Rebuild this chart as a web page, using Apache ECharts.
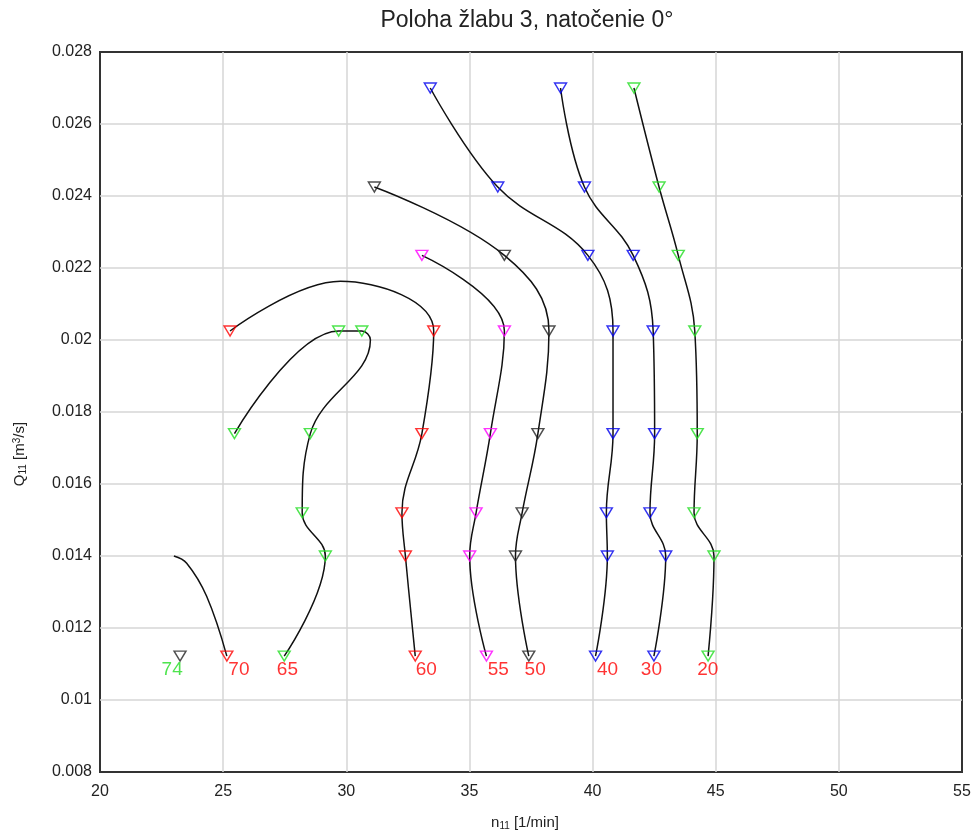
<!DOCTYPE html>
<html>
<head>
<meta charset="utf-8">
<script src="https://cdn.jsdelivr.net/npm/echarts@6/dist/echarts.min.js"></script>
<style>
html,body{margin:0;padding:0;background:#fff;}
#chart{width:976px;height:836px;}
</style>
</head>
<body>
<div id="chart"></div>
<script>
// ---- axis ticks ----
const xMin = 20, xMax = 55, xStep = 5;
const yMin = 0.008, yMax = 0.028, yStep = 0.002;

// ---- curves (top to bottom along each curve) ----
const curve20 = [[41.68,0.0270],[42.70,0.02425],[43.48,0.02235],[44.15,0.02025],[44.25,0.0174],[44.12,0.0152],[44.93,0.0140],[44.69,0.01122]];
const curve30 = [[38.70,0.0270],[39.67,0.02425],[41.65,0.02235],[42.46,0.02025],[42.52,0.0174],[42.33,0.0152],[42.97,0.0140],[42.49,0.01122]];
const curve40 = [[33.41,0.0270],[36.15,0.02425],[39.81,0.02235],[40.83,0.02025],[40.83,0.0174],[40.56,0.0152],[40.60,0.0140],[40.12,0.01122]];
const curve50 = [[31.14,0.02425],[36.42,0.02235],[38.23,0.02025],[37.78,0.0174],[37.14,0.0152],[36.87,0.0140],[37.41,0.01122]];
const curve55 = [[33.07,0.02235],[36.42,0.02025],[35.85,0.0174],[35.27,0.0152],[35.01,0.0140],[35.69,0.01122]];
const curve60 = [[25.28,0.02025],[29.76,0.02163],[33.55,0.02025],[33.07,0.0174],[32.26,0.0152],[32.40,0.0140],[32.80,0.01122]];
const curve65 = [[25.46,0.0174],[29.69,0.02025],[30.63,0.02025],[30.98,0.0200],[28.54,0.0174],[28.21,0.0152],[29.15,0.0140],[27.48,0.01122]];
const curve70 = [[23.0,0.0140],[23.52,0.0138],[24.33,0.01288],[25.15,0.01122]];

// ---- markers by colour ----
const markersRed = [[25.28,0.02025],[33.55,0.02025],[33.07,0.0174],[32.26,0.0152],[32.40,0.0140],[32.80,0.01122],[25.15,0.01122]];
const markersGreen = [[41.68,0.0270],[42.70,0.02425],[43.48,0.02235],[44.15,0.02025],[44.25,0.0174],[44.12,0.0152],[44.93,0.0140],[44.69,0.01122],
  [25.46,0.0174],[29.69,0.02025],[30.63,0.02025],[28.54,0.0174],[28.21,0.0152],[29.15,0.0140],[27.48,0.01122]];
const markersBlue = [[38.70,0.0270],[39.67,0.02425],[41.65,0.02235],[42.46,0.02025],[42.52,0.0174],[42.33,0.0152],[42.97,0.0140],[42.49,0.01122],
  [33.41,0.0270],[36.15,0.02425],[39.81,0.02235],[40.83,0.02025],[40.83,0.0174],[40.56,0.0152],[40.60,0.0140],[40.12,0.01122]];
const markersMagenta = [[33.07,0.02235],[36.42,0.02025],[35.85,0.0174],[35.27,0.0152],[35.01,0.0140],[35.69,0.01122]];
const markersBlack = [[31.14,0.02425],[36.42,0.02235],[38.23,0.02025],[37.78,0.0174],[37.14,0.0152],[36.87,0.0140],[37.41,0.01122],[23.25,0.01122]];

// ---- curve labels ----
const labelText = ['74','70','65','60','55','50','40','30','20'];
const labelX = [22.93,25.64,27.61,33.25,36.17,37.67,40.61,42.39,44.68];
const labelY = [0.01083,0.01083,0.01083,0.01083,0.01083,0.01083,0.01083,0.01083,0.01083];
const labelColor = ['#22dd22','#ff0000','#ff0000','#ff0000','#ff0000','#ff0000','#ff0000','#ff0000','#ff0000'];

const FONT = '"Liberation Sans", Arial, sans-serif';
const chart = echarts.init(document.getElementById('chart'), null, {renderer:'canvas'});

const curves = [curve20, curve30, curve40, curve50, curve55, curve60, curve65, curve70];
const lineSeries = curves.map(c => ({
  type: 'line', data: c, smooth: 0.4, symbol: 'none', showSymbol: false,
  lineStyle: {color: '#111', width: 1.5}, z: 2, silent: true
}));
function markerSeries(data, color) {
  return {
    type: 'scatter', data: data, symbol: 'triangle', symbolRotate: 180, symbolSize: [12, 10],
    itemStyle: {color: 'rgba(0,0,0,0)', borderColor: color, borderWidth: 1.4}, z: 3, silent: true
  };
}
const labelData = labelText.map((t, i) => ({
  value: [labelX[i], labelY[i], t],
  label: {color: labelColor[i]}
}));

chart.setOption({
  animation: false,
  backgroundColor: '#ffffff',
  title: {
    text: 'Poloha žlabu 3, natočenie 0°',
    left: 522, top: 4, textAlign: 'center',
    textStyle: {fontFamily: FONT, fontSize: 23, fontWeight: 'normal', color: '#222'}
  },
  grid: {left: 100, right: 14, top: 52, bottom: 59, show: true, borderColor: '#333', borderWidth: 2, containLabel: false},
  xAxis: {
    type: 'value', min: xMin, max: xMax, interval: xStep,
    name: '{a|n}{s|11}{a| [1/min]}', nameLocation: 'middle', nameGap: 43,
    nameTextStyle: {padding: [0, 12, 0, 0], rich: {
      a: {fontFamily: FONT, fontSize: 15, color: '#222'},
      s: {fontFamily: FONT, fontSize: 10, color: '#222', verticalAlign: 'bottom', padding: [6, 0, 0, 0]}
    }},
    axisLine: {show: false}, axisTick: {show: false},
    axisLabel: {fontFamily: FONT, fontSize: 16, color: '#222', margin: 12},
    splitLine: {show: true, showMinLine: false, showMaxLine: false, lineStyle: {color: '#d6d6d6', width: 1.5}}
  },
  yAxis: {
    type: 'value', min: yMin, max: yMax, interval: yStep,
    name: '{a|Q}{s|11}{a| [m}{p|3}{a|/s]}', nameLocation: 'middle', nameGap: 72,
    nameTextStyle: {padding: [0, 84, 0, 0], rich: {
      a: {fontFamily: FONT, fontSize: 15, color: '#222'},
      s: {fontFamily: FONT, fontSize: 10, color: '#222', verticalAlign: 'bottom', padding: [6, 0, 0, 0]},
      p: {fontFamily: FONT, fontSize: 10, color: '#222', verticalAlign: 'top', padding: [0, 0, 6, 0]}
    }},
    axisLine: {show: false}, axisTick: {show: false},
    axisLabel: {fontFamily: FONT, fontSize: 16, color: '#222', margin: 8},
    splitLine: {show: true, showMinLine: false, showMaxLine: false, lineStyle: {color: '#d6d6d6', width: 1.5}}
  },
  series: [
    ...lineSeries,
    markerSeries(markersRed, '#ff0000'),
    markerSeries(markersGreen, '#22dd22'),
    markerSeries(markersBlue, '#0000ee'),
    markerSeries(markersMagenta, '#ff00ff'),
    markerSeries(markersBlack, '#222222'),
    {
      type: 'scatter', data: labelData, symbolSize: 0, silent: true, z: 4,
      label: {show: true, position: 'inside', formatter: p => p.value[2], fontFamily: FONT, fontSize: 19}
    }
  ]
});
</script>
</body>
</html>
